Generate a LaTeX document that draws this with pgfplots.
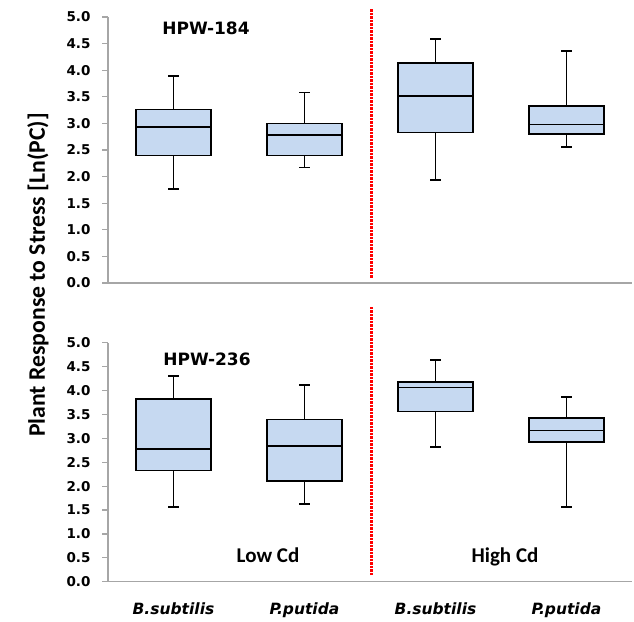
\documentclass[border=0pt]{standalone}
\usepackage{pgfplots}
\pgfplotsset{compat=1.18}
\usepgfplotslibrary{statistics}
\usepackage{fontspec}
\setmainfont{DejaVu Sans}
\newfontfamily\calib{Carlito}
\definecolor{boxfill}{HTML}{C6D9F1}
\definecolor{axgray}{HTML}{A6A6A6}
\pgfplotsset{
  panel/.style={
    scale only axis, width=524pt,
    xmin=-0.5, xmax=3.5, ymin=0, ymax=5,
    axis x line=bottom, axis y line=left,
    axis line style={axgray, line width=1.2pt, -},
    ytick={0,0.5,1,1.5,2,2.5,3,3.5,4,4.5,5},
    /pgf/number format/assume math mode=true,
    yticklabel style={font=\bfseries\fontsize{13.5}{15}\selectfont, xshift=-8pt,
      /pgf/number format/.cd, fixed, fixed zerofill, precision=1},
    ytick style={axgray, line width=1.2pt},
    tick align=outside, major tick length=6pt,
    xtick={0,1,2,3}, xtick style={draw=none},
    clip=false,
    boxplot/draw direction=y,
    boxplot/box extend=0.57,
    boxplot/whisker extend=0.08,
    boxplot/every box/.style={fill=boxfill, draw=black, line width=1.6pt},
    boxplot/every whisker/.style={draw=black, line width=1.8pt},
    boxplot/every median/.style={draw=black, line width=1.6pt},
  },
  bx/.style={draw=black, line width=1.6pt, solid},
  sep/.style={red, line width=2.6pt, dash pattern=on 2.2pt off 1.3pt, mark=none},
}
\begin{document}
\begin{tikzpicture}
\useasboundingbox (0,0) rectangle (634pt,621pt);
% top panel
\begin{axis}[panel, height=266pt, at={(108pt,338pt)}, anchor=south west, xticklabels={}]
\addplot[bx, boxplot prepared={lower whisker=1.76, lower quartile=2.40, median=2.93, upper quartile=3.26, upper whisker=3.89, draw position=0}] coordinates {};
\addplot[bx, boxplot prepared={lower whisker=2.17, lower quartile=2.40, median=2.78, upper quartile=3.00, upper whisker=3.58, draw position=1}] coordinates {};
\addplot[bx, boxplot prepared={lower whisker=1.93, lower quartile=2.83, median=3.51, upper quartile=4.13, upper whisker=4.58, draw position=2}] coordinates {};
\addplot[bx, boxplot prepared={lower whisker=2.55, lower quartile=2.80, median=2.98, upper quartile=3.33, upper whisker=4.36, draw position=3}] coordinates {};
\addplot[sep] coordinates {(1.51,0.10) (1.51,5.16)};
\end{axis}
% bottom panel
\begin{axis}[panel, height=239pt, at={(108pt,39.3pt)}, anchor=south west,
  xticklabels={\textbf{\textit{B.subtilis}},\textbf{\textit{P.putida}},\textbf{\textit{B.subtilis}},\textbf{\textit{P.putida}}},
  xticklabel style={font=\fontsize{15.5}{17}\selectfont, yshift=-11pt}]
\addplot[bx, boxplot prepared={lower whisker=1.56, lower quartile=2.33, median=2.78, upper quartile=3.82, upper whisker=4.31, draw position=0}] coordinates {};
\addplot[bx, boxplot prepared={lower whisker=1.63, lower quartile=2.11, median=2.84, upper quartile=3.39, upper whisker=4.12, draw position=1}] coordinates {};
\addplot[bx, boxplot prepared={lower whisker=2.82, lower quartile=3.56, median=4.06, upper quartile=4.18, upper whisker=4.63, draw position=2}] coordinates {};
\addplot[bx, boxplot prepared={lower whisker=1.56, lower quartile=2.92, median=3.16, upper quartile=3.42, upper whisker=3.86, draw position=3}] coordinates {};
\addplot[sep] coordinates {(1.51,0.14) (1.51,5.75)};
\end{axis}
\node[font=\bfseries\fontsize{17}{19}\selectfont] at (206pt,593pt) {HPW-184};
\node[font=\bfseries\fontsize{17}{19}\selectfont] at (207pt,262pt) {HPW-236};
\node[font=\calib\bfseries\fontsize{21}{23}\selectfont] at (268pt,66pt) {Low Cd};
\node[font=\calib\bfseries\fontsize{21}{23}\selectfont] at (505pt,64pt) {High Cd};
\node[font=\calib\bfseries\fontsize{23.7}{26}\selectfont, rotate=90] at (38pt,346pt) {Plant Response to Stress [Ln(PC)]};
\end{tikzpicture}
\end{document}
